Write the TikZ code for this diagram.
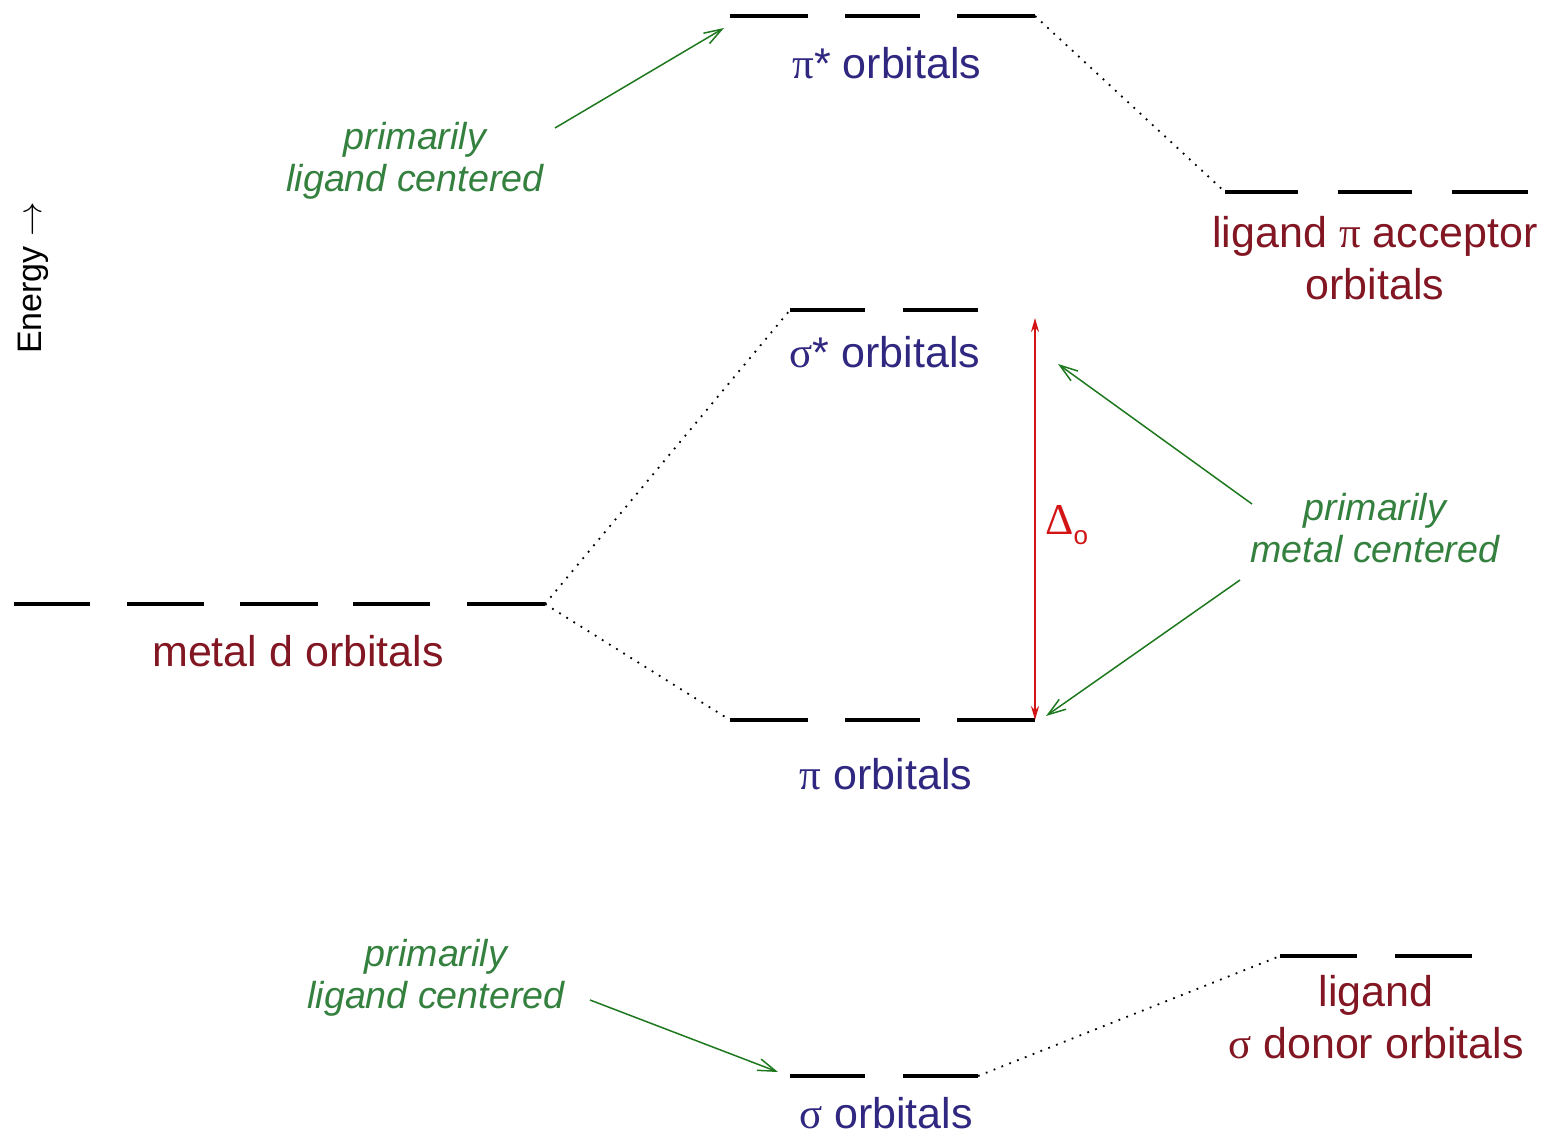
\documentclass[tikz,border=0pt]{standalone}
\usepackage{fontspec}
\setmainfont{Liberation Sans}
\newfontfamily\grk{Liberation Serif}
\usetikzlibrary{arrows.meta}
\definecolor{moblue}{RGB}{48,40,128}
\definecolor{aored}{RGB}{130,22,34}
\definecolor{notegreen}{RGB}{52,128,62}
\definecolor{hintgreen}{RGB}{30,120,30}
\definecolor{splitred}{RGB}{210,20,20}
\tikzset{
    orb/.style={line width=2.4pt},
    corr/.style={line width=0.9pt, dash pattern=on 0.9pt off 3.3pt},
    hint/.style={draw=hintgreen, line width=0.75pt, -{Straight Barb[length=9pt,width=6pt]}},
    split/.style={draw=splitred, line width=1pt, {Stealth[length=7pt,width=4pt]}-{Stealth[length=7pt,width=4pt]}},
    molabel/.style={text=moblue, anchor=base, font=\fontsize{21.5}{26}\selectfont},
    aolabel/.style={text=aored, anchor=base, align=center, font=\fontsize{21.5}{26}\selectfont},
    note/.style={text=notegreen, anchor=base, align=center, font=\itshape\fontsize{18.8}{21}\selectfont}
}

\begin{document}
\begin{tikzpicture}[x=0.5pt,y=-0.5pt]
    \useasboundingbox (0,0) rectangle (1547,1138);
    \foreach \a/\b in {730/808,845/920,957/1035} {
      \draw[orb] (\a,16) -- (\b,16);
      \draw[orb] (\a,720) -- (\b,720);
    }
    \foreach \a/\b in {790/865,903/978} {
      \draw[orb] (\a,310) -- (\b,310);
      \draw[orb] (\a,1076) -- (\b,1076);
    }
    \foreach \a/\b in {1225/1298,1338/1412,1452/1528} {
      \draw[orb] (\a,192) -- (\b,192);
    }
    \foreach \a/\b in {14/90,127/204,240/318,353/430,467/545} {
      \draw[orb] (\a,604) -- (\b,604);
    }
    \foreach \a/\b in {1280/1357,1395/1472} {
      \draw[orb] (\a,956) -- (\b,956);
    }
    \coordinate (pistarR) at (1035,16);
    \coordinate (accL) at (1225,192);
    \coordinate (sigstarL) at (790,310);
    \coordinate (metalR) at (545,604);
    \coordinate (piL) at (730,720);
    \coordinate (piR) at (1035,720);
    \coordinate (sigR) at (978,1076);
    \coordinate (donorL) at (1280,956);
    \coordinate (deltatop) at (1035,318);
    \draw[corr] (pistarR) -- (accL);
    \draw[corr] (metalR) -- (sigstarL);
    \draw[corr] (metalR) -- (piL);
    \draw[corr] (sigR) -- (donorL);
    \draw[split] (piR) -- (deltatop);
    \node[text=splitred, anchor=base west, inner sep=0pt, font=\fontsize{22}{26}\selectfont]
      (delta) at (1045,535) {{\grk Δ}\raisebox{-5pt}{\fontsize{13}{15}\selectfont o}};
    \node[molabel] (pistar) at (887,79) {{\grk π}* orbitals};
    \node[molabel] (sigstar) at (885,368) {{\grk σ}* orbitals};
    \node[molabel] (pi) at (886,789) {{\grk π} orbitals};
    \node[molabel] (sig) at (886,1128) {{\grk σ} orbitals};
    \node[aolabel] (metal) at (298,666) {metal d orbitals};
    \node[aolabel] (acc) at (1375,300) {ligand {\grk π} acceptor\\orbitals};
    \node[aolabel] (donor) at (1376,1058) {ligand\\{\grk σ} donor orbitals};
    \node[note] (ligtop) at (415,192) {primarily\\ligand centered};
    \node[note] (metnote) at (1375,563) {primarily\\metal centered};
    \node[note] (ligbot) at (436,1008) {primarily\\ligand centered};
    \node[rotate=90, font=\fontsize{17}{20}\selectfont] (energy) at (33,278) {Energy $\rightarrow$};
    \coordinate (t1) at (555,128);
    \coordinate (h1) at (724,28);
    \coordinate (t2) at (1252,504);
    \coordinate (h2) at (1058,364);
    \coordinate (t3) at (1240,580);
    \coordinate (h3) at (1046,716);
    \coordinate (t4) at (590,1000);
    \coordinate (h4) at (778,1072);
    \draw[hint] (t1) -- (h1);
    \draw[hint] (t2) -- (h2);
    \draw[hint] (t3) -- (h3);
    \draw[hint] (t4) -- (h4);
  \end{tikzpicture}
\end{document}
